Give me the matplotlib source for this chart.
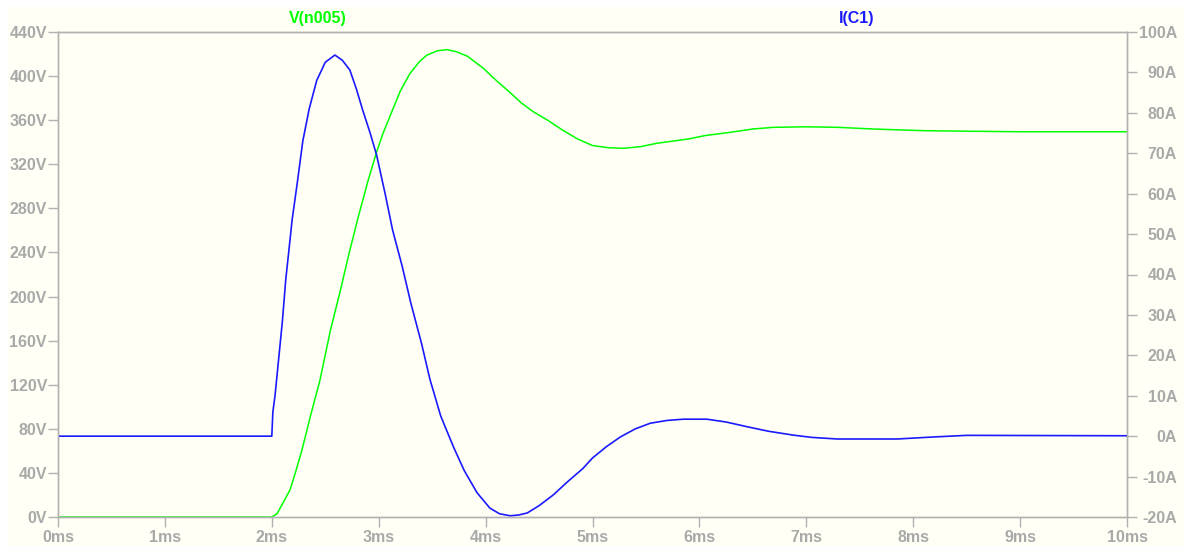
import matplotlib
matplotlib.use("Agg")
import matplotlib.pyplot as plt
from matplotlib.patches import Rectangle

# transient: time in ms, node voltage in V, capacitor current in A
t_v = [0, 2.0, 2.05, 2.10, 2.17, 2.22, 2.28, 2.36, 2.45, 2.55, 2.64, 2.72, 2.80,
       2.90, 2.98, 3.04, 3.12, 3.20, 3.29, 3.38, 3.45, 3.55, 3.64, 3.73, 3.83,
       3.98, 4.10, 4.23, 4.33, 4.44, 4.58, 4.72, 4.86, 5.00, 5.15, 5.29, 5.45,
       5.60, 5.75, 5.90, 6.05, 6.29, 6.50, 6.69, 7.00, 7.30, 7.62, 8.09, 8.50,
       9.00, 10.0]
v_n005 = [0, 0, 3, 12, 24.5, 40, 60, 91, 124, 170, 205, 238, 269,
          305, 331, 348, 367, 386, 402, 413, 419, 423, 424, 422, 418,
          407, 396, 385, 376, 368, 360, 351, 343, 337, 335, 334.5, 336,
          339, 341, 343, 346, 349, 352, 353.5, 354, 353.5, 352, 350.5, 350,
          349.5, 349.5]

t_i = [0, 2.0, 2.01, 2.03, 2.06, 2.10, 2.13, 2.16, 2.19, 2.24, 2.29, 2.35, 2.42,
       2.50, 2.59, 2.66, 2.73, 2.79, 2.85, 2.92, 2.98, 3.06, 3.13, 3.22, 3.30,
       3.40, 3.48, 3.58, 3.70, 3.80, 3.92, 4.04, 4.13, 4.23, 4.31, 4.39, 4.50,
       4.63, 4.77, 4.91, 5.00, 5.13, 5.26, 5.40, 5.54, 5.70, 5.85, 6.07, 6.25,
       6.47, 6.65, 6.88, 7.05, 7.29, 7.85, 8.19, 8.50, 10.0]
i_c1 = [0, 0, 6, 10, 18, 28.7, 38.6, 46, 53.5, 63, 73, 81, 88,
        92.5, 94.3, 93, 90.6, 86, 80.7, 75, 69.6, 60, 51, 42, 33,
        23, 14, 5, -2.7, -8.5, -14, -17.8, -19.2, -19.7, -19.5, -19, -17.2,
        -14.6, -11.2, -8, -5.4, -2.6, -0.2, 1.8, 3.2, 3.9, 4.2, 4.2, 3.5,
        2.2, 1.2, 0.25, -0.3, -0.7, -0.7, -0.2, 0.2, 0.1]

x_ticks = list(range(0, 11))
x_labels = [f"{t}ms" for t in x_ticks]
v_ticks = list(range(0, 441, 40))
v_labels = [f"{v}V" for v in v_ticks]
i_ticks = list(range(-20, 101, 10))
i_labels = [f"{a}A" for a in i_ticks]

BG = "#fffff5"
GRAY = "#b2b2b2"
LBL = "#a9a9a9"
GREEN = "#00ff00"
BLUE = "#1a1aff"

plt.rcParams["font.family"] = ["Liberation Sans", "DejaVu Sans"]

fig = plt.figure(figsize=(11.84, 5.46), dpi=100, facecolor="white")
fig.patches.append(Rectangle((8 / 1184, 0), 1, 1 - 7 / 546, transform=fig.transFigure,
                             facecolor=BG, edgecolor="none", zorder=-10))

ax = fig.add_axes([58 / 1184, 29 / 546, (1127 - 58) / 1184, (517 - 32) / 546])
ax.set_facecolor(BG)
ax2 = ax.twinx()
ax2.patch.set_visible(False)

ax.plot(t_v, v_n005, color=GREEN, lw=1.1)
ax2.plot(t_i, i_c1, color=BLUE, lw=1.2)

ax.set_xlim(0, 10)
ax.set_ylim(0, 440)
ax2.set_ylim(-20, 100)

ax.set_xticks(x_ticks)
ax.set_xticklabels(x_labels)
ax.set_yticks(v_ticks)
ax.set_yticklabels(v_labels)
ax2.set_yticks(i_ticks)
ax2.set_yticklabels(i_labels)

for a in (ax, ax2):
    for s in a.spines.values():
        s.set_color(GRAY)
        s.set_linewidth(1.0)
    a.tick_params(colors=GRAY, labelcolor=LBL, length=7, width=1.0,
                  labelsize=11.5)
    for lab in a.get_xticklabels() + a.get_yticklabels():
        lab.set_fontweight("bold")

ax.tick_params(axis="x", pad=2)
ax.tick_params(axis="y", pad=1)
ax2.tick_params(axis="y", pad=29)
for lab in ax2.get_yticklabels():
    lab.set_horizontalalignment("right")

fig.text(318 / 1184, 1 - 18 / 546, "V(n005)", color=GREEN, fontsize=11.5,
         fontweight="bold", ha="center", va="center")
fig.text(857 / 1184, 1 - 18 / 546, "I(C1)", color=BLUE, fontsize=11.5,
         fontweight="bold", ha="center", va="center")

fig.savefig("out.png", dpi=100, facecolor="white")
